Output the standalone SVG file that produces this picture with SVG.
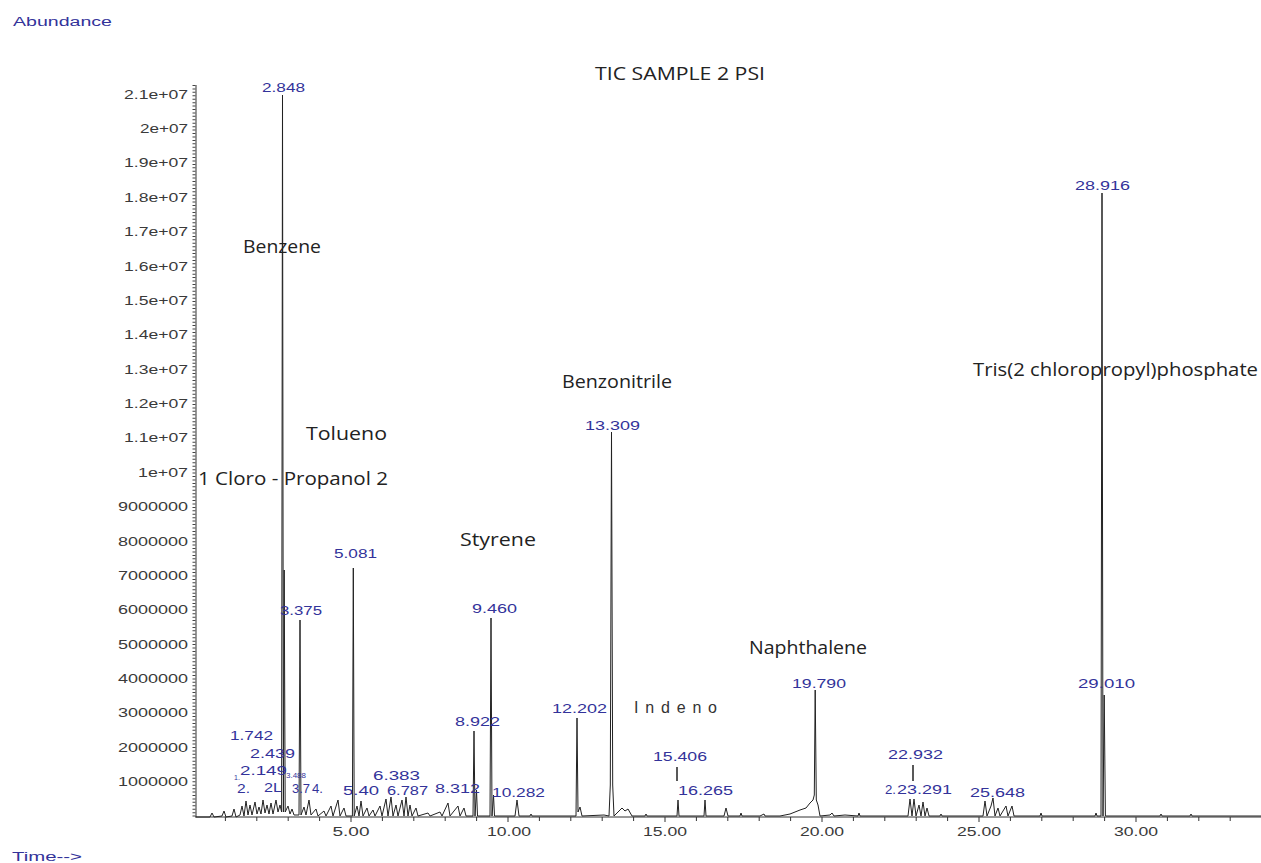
<svg xmlns="http://www.w3.org/2000/svg" width="1261" height="863" viewBox="0 0 1261 863">
<style>
.ax{stroke:#333;stroke-width:1;fill:none}
.yl{font-family:"Liberation Sans",Arial,sans-serif;font-size:12px;fill:#3a3a3a;text-anchor:end}
.xl{font-family:"Liberation Sans",Arial,sans-serif;font-size:12px;fill:#3a3a3a;text-anchor:middle}
.bl{font-family:"Liberation Sans",Arial,sans-serif;font-size:12px;fill:#33339a}
.sm{font-family:"Liberation Sans",Arial,sans-serif;font-size:7px;fill:#33339a}
.cp{font-family:"Open Sans","DejaVu Sans",sans-serif;font-size:19px;fill:#222}
.chrom{stroke:#222;stroke-width:1;fill:none;stroke-linejoin:miter}
.mk{stroke:#222;stroke-width:1.5}
</style>
<rect x="0" y="0" width="1261" height="863" fill="#fff"/>

<text x="13" y="26" class="bl" textLength="99" lengthAdjust="spacingAndGlyphs" fill="#2d2d8c">Abundance</text>
<text x="12" y="861" class="bl" textLength="70" lengthAdjust="spacingAndGlyphs">Time--&gt;</text>
<text x="595" y="80" class="cp" font-size="16" textLength="170" lengthAdjust="spacingAndGlyphs">TIC SAMPLE 2 PSI</text>

<g id="y-axis">
<line x1="196" y1="85" x2="196" y2="817" class="ax"/>
<line x1="194" y1="85" x2="194" y2="817" stroke="#444" stroke-width="3" stroke-dasharray="1 2.43"/>
<g class="yl">
<text x="188" y="99" textLength="64" lengthAdjust="spacingAndGlyphs">2.1e+07</text>
<text x="188" y="133" textLength="48" lengthAdjust="spacingAndGlyphs">2e+07</text>
<text x="188" y="167" textLength="64" lengthAdjust="spacingAndGlyphs">1.9e+07</text>
<text x="188" y="202" textLength="64" lengthAdjust="spacingAndGlyphs">1.8e+07</text>
<text x="188" y="236" textLength="64" lengthAdjust="spacingAndGlyphs">1.7e+07</text>
<text x="188" y="271" textLength="64" lengthAdjust="spacingAndGlyphs">1.6e+07</text>
<text x="188" y="305" textLength="64" lengthAdjust="spacingAndGlyphs">1.5e+07</text>
<text x="188" y="339" textLength="64" lengthAdjust="spacingAndGlyphs">1.4e+07</text>
<text x="188" y="374" textLength="64" lengthAdjust="spacingAndGlyphs">1.3e+07</text>
<text x="188" y="408" textLength="64" lengthAdjust="spacingAndGlyphs">1.2e+07</text>
<text x="188" y="442" textLength="64" lengthAdjust="spacingAndGlyphs">1.1e+07</text>
<text x="188" y="477" textLength="50" lengthAdjust="spacingAndGlyphs">1e+07</text>
<text x="188" y="511" textLength="70" lengthAdjust="spacingAndGlyphs">9000000</text>
<text x="188" y="546" textLength="70" lengthAdjust="spacingAndGlyphs">8000000</text>
<text x="188" y="580" textLength="70" lengthAdjust="spacingAndGlyphs">7000000</text>
<text x="188" y="614" textLength="70" lengthAdjust="spacingAndGlyphs">6000000</text>
<text x="188" y="649" textLength="70" lengthAdjust="spacingAndGlyphs">5000000</text>
<text x="188" y="683" textLength="70" lengthAdjust="spacingAndGlyphs">4000000</text>
<text x="188" y="717" textLength="70" lengthAdjust="spacingAndGlyphs">3000000</text>
<text x="188" y="752" textLength="70" lengthAdjust="spacingAndGlyphs">2000000</text>
<text x="188" y="786" textLength="70" lengthAdjust="spacingAndGlyphs">1000000</text>
</g>
</g>

<g id="x-axis">
<line x1="195" y1="817" x2="1261" y2="817" class="ax"/>
<path class="ax" d="M225.4,817v4M256.8,817v4M288.2,817v4M319.6,817v4M351,817v5M382.4,817v4M413.8,817v4M445.2,817v4M476.6,817v4M508,817v5M539.4,817v4M570.8,817v4M602.2,817v4M633.6,817v4M665,817v5M696.4,817v4M727.8,817v4M759.2,817v4M790.6,817v4M822,817v5M853.4,817v4M884.8,817v4M916.2,817v4M947.6,817v4M979,817v5M1010.4,817v4M1041.8,817v4M1073.2,817v4M1104.6,817v4M1136,817v5M1167.4,817v4M1198.8,817v4M1230.2,817v4"/>
<g class="xl">
<text x="351" y="836" textLength="37" lengthAdjust="spacingAndGlyphs">5.00</text>
<text x="509" y="836" textLength="44" lengthAdjust="spacingAndGlyphs">10.00</text>
<text x="665" y="836" textLength="44" lengthAdjust="spacingAndGlyphs">15.00</text>
<text x="822" y="836" textLength="44" lengthAdjust="spacingAndGlyphs">20.00</text>
<text x="979" y="836" textLength="44" lengthAdjust="spacingAndGlyphs">25.00</text>
<text x="1136" y="836" textLength="44" lengthAdjust="spacingAndGlyphs">30.00</text>
</g>
</g>

<g id="chromatogram">
<path class="chrom" d="M196,817 L210,817 L212,813 L214,817 L222,816 L224,811 L226,817 L232,816 L234,809 L236,817 L240,815 L242,806 L244,816 L246,801 L248,815 L250,805 L252,815 L255,802 L257,814 L259,807 L261,814 L263,800 L265,813 L267,805 L269,814 L271,803 L273,814 L276,800 L278,812 L280,805 L281.6,812 L282.5,95 L283.4,812 L284.2,570 L285.2,812 L288,806 L290,814 L292,809 L294,815 L299,815 L300,620 L301,815 L304,807 L306,815 L309,800 L311,815 L316,809 L318,816 L324,811 L326,816 L331,806 L333,816 L338,800 L340,816 L344,808 L346,816 L352.4,816 L353.3,568 L354.2,816 L357,806 L359,816 L361,801 L363,816 L367,808 L369,816 L373,810 L375,816 L380,806 L382,816 L386,799 L388,816 L391,797 L393,816 L396,805 L398,816 L402,800 L404,816 L406,797 L408,816 L410,805 L412,816 L416,808 L418,816 L428,813 L430,816 L440,812 L442,816 L448,803 L450,816 L458,806 L460,816 L464,808 L466,816 L473,816 L474,731 L475,816 L476.5,790 L477.5,816 L490,816 L491,618 L492,816 L493.5,795 L494.5,816 L515,816 L517,800 L519,816 L530,816 L531,814 L532,816 L560,816 L576,816 L577,718 L578,812 L580,807 L582,816 L604,815 L609,816 L610.3,785 L611.5,432 L612.7,785 L614,816 L618,812 L622,808 L625,811 L628,809 L632,816 L645,816 L646,814 L647,816 L677,816 L678,800 L679,816 L704,816 L705,800 L706,816 L724,816 L726,808 L728,816 L740,816 L741,813 L742,816 L760,816 L764,814 L765,816 L780,816 L790,814 L800,810 L806,808 L810,803 L813,800 L814.3,795 L815.2,690 L816.3,800 L818,805 L820,816 L830,815 L832,813 L834,816 L845,815 L858,816 L859,813 L860,816 L870,816 L908,816 L910,799 L912,816 L914,799 L916,816 L919,805 L921,816 L923,802 L925,816 L927,808 L929,816 L940,816 L941,814 L942,816 L950,816 L983,816 L985,801 L987,816 L991,806 L993,798 L995,816 L998,808 L1000,816 L1006,806 L1008,816 L1012,806 L1014,816 L1040,816 L1041,813 L1042,816 L1095,816 L1096,813 L1097,816 L1101,816 L1102,193 L1103,816 L1104.2,695 L1105.4,816 L1160,816 L1161,814 L1162,816 L1190,816 L1191,814 L1192,816 L1261,816"/>
<line x1="677" y1="767" x2="677" y2="781" class="mk"/>
<line x1="913" y1="765" x2="913" y2="781" class="mk"/>
</g>

<g id="peak-labels" class="bl">
<text x="262" y="92" textLength="43" lengthAdjust="spacingAndGlyphs">2.848</text>
<text x="1075" y="190" textLength="55" lengthAdjust="spacingAndGlyphs">28.916</text>
<text x="585" y="430" textLength="55" lengthAdjust="spacingAndGlyphs">13.309</text>
<text x="334" y="558" textLength="43" lengthAdjust="spacingAndGlyphs">5.081</text>
<text x="280" y="615" textLength="42" lengthAdjust="spacingAndGlyphs">3.375</text>
<text x="472" y="613" textLength="45" lengthAdjust="spacingAndGlyphs">9.460</text>
<text x="455" y="726" textLength="45" lengthAdjust="spacingAndGlyphs">8.922</text>
<text x="552" y="713" textLength="55" lengthAdjust="spacingAndGlyphs">12.202</text>
<text x="792" y="688" textLength="54" lengthAdjust="spacingAndGlyphs">19.790</text>
<text x="1078" y="688" textLength="57" lengthAdjust="spacingAndGlyphs">29.010</text>
<text x="653" y="761" textLength="54" lengthAdjust="spacingAndGlyphs">15.406</text>
<text x="678" y="795" textLength="55" lengthAdjust="spacingAndGlyphs">16.265</text>
<text x="888" y="759" textLength="55" lengthAdjust="spacingAndGlyphs">22.932</text>
<text x="885" y="794" textLength="11" lengthAdjust="spacingAndGlyphs">2.</text>
<text x="897" y="794" textLength="55" lengthAdjust="spacingAndGlyphs">23.291</text>
<text x="970" y="797" textLength="55" lengthAdjust="spacingAndGlyphs">25.648</text>
<text x="492" y="797" textLength="53" lengthAdjust="spacingAndGlyphs">10.282</text>
<text x="435" y="793" textLength="45" lengthAdjust="spacingAndGlyphs">8.312</text>
<text x="373" y="780" textLength="47" lengthAdjust="spacingAndGlyphs">6.383</text>
<text x="387" y="795" textLength="41" lengthAdjust="spacingAndGlyphs">6.787</text>
<text x="343" y="795" textLength="36" lengthAdjust="spacingAndGlyphs">5.40</text>
<text x="230" y="740" textLength="43" lengthAdjust="spacingAndGlyphs">1.742</text>
<text x="250" y="758" textLength="45" lengthAdjust="spacingAndGlyphs">2.439</text>
<text x="240" y="775" textLength="47" lengthAdjust="spacingAndGlyphs">2.149</text>
<text x="237" y="793" textLength="13" lengthAdjust="spacingAndGlyphs">2.</text>
<text x="264" y="792" textLength="18" lengthAdjust="spacingAndGlyphs">2L</text>
<text x="292" y="793" textLength="18" lengthAdjust="spacingAndGlyphs">3.7</text>
<text x="312" y="793" textLength="11" lengthAdjust="spacingAndGlyphs">4.</text>
<text x="234" y="780" class="sm">1.</text>
<text x="286" y="778" class="sm" textLength="20" lengthAdjust="spacingAndGlyphs">3.488</text>
</g>

<g id="compound-labels" class="cp">
<text x="243" y="253" textLength="78" lengthAdjust="spacingAndGlyphs">Benzene</text>
<text x="306" y="440" textLength="81" lengthAdjust="spacingAndGlyphs">Tolueno</text>
<text x="198" y="485" textLength="190" lengthAdjust="spacingAndGlyphs">1 Cloro - Propanol 2</text>
<text x="460" y="546" textLength="76" lengthAdjust="spacingAndGlyphs">Styrene</text>
<text x="562" y="388" textLength="110" lengthAdjust="spacingAndGlyphs">Benzonitrile</text>
<text x="749" y="654" textLength="118" lengthAdjust="spacingAndGlyphs">Naphthalene</text>
<text x="634" y="713" font-family="Liberation Sans, Arial, sans-serif" font-size="16" textLength="83" lengthAdjust="spacing" fill="#333">Indeno</text>
<text x="973" y="376" textLength="285" lengthAdjust="spacingAndGlyphs">Tris(2 chloropropyl)phosphate</text>
</g>
</svg>
